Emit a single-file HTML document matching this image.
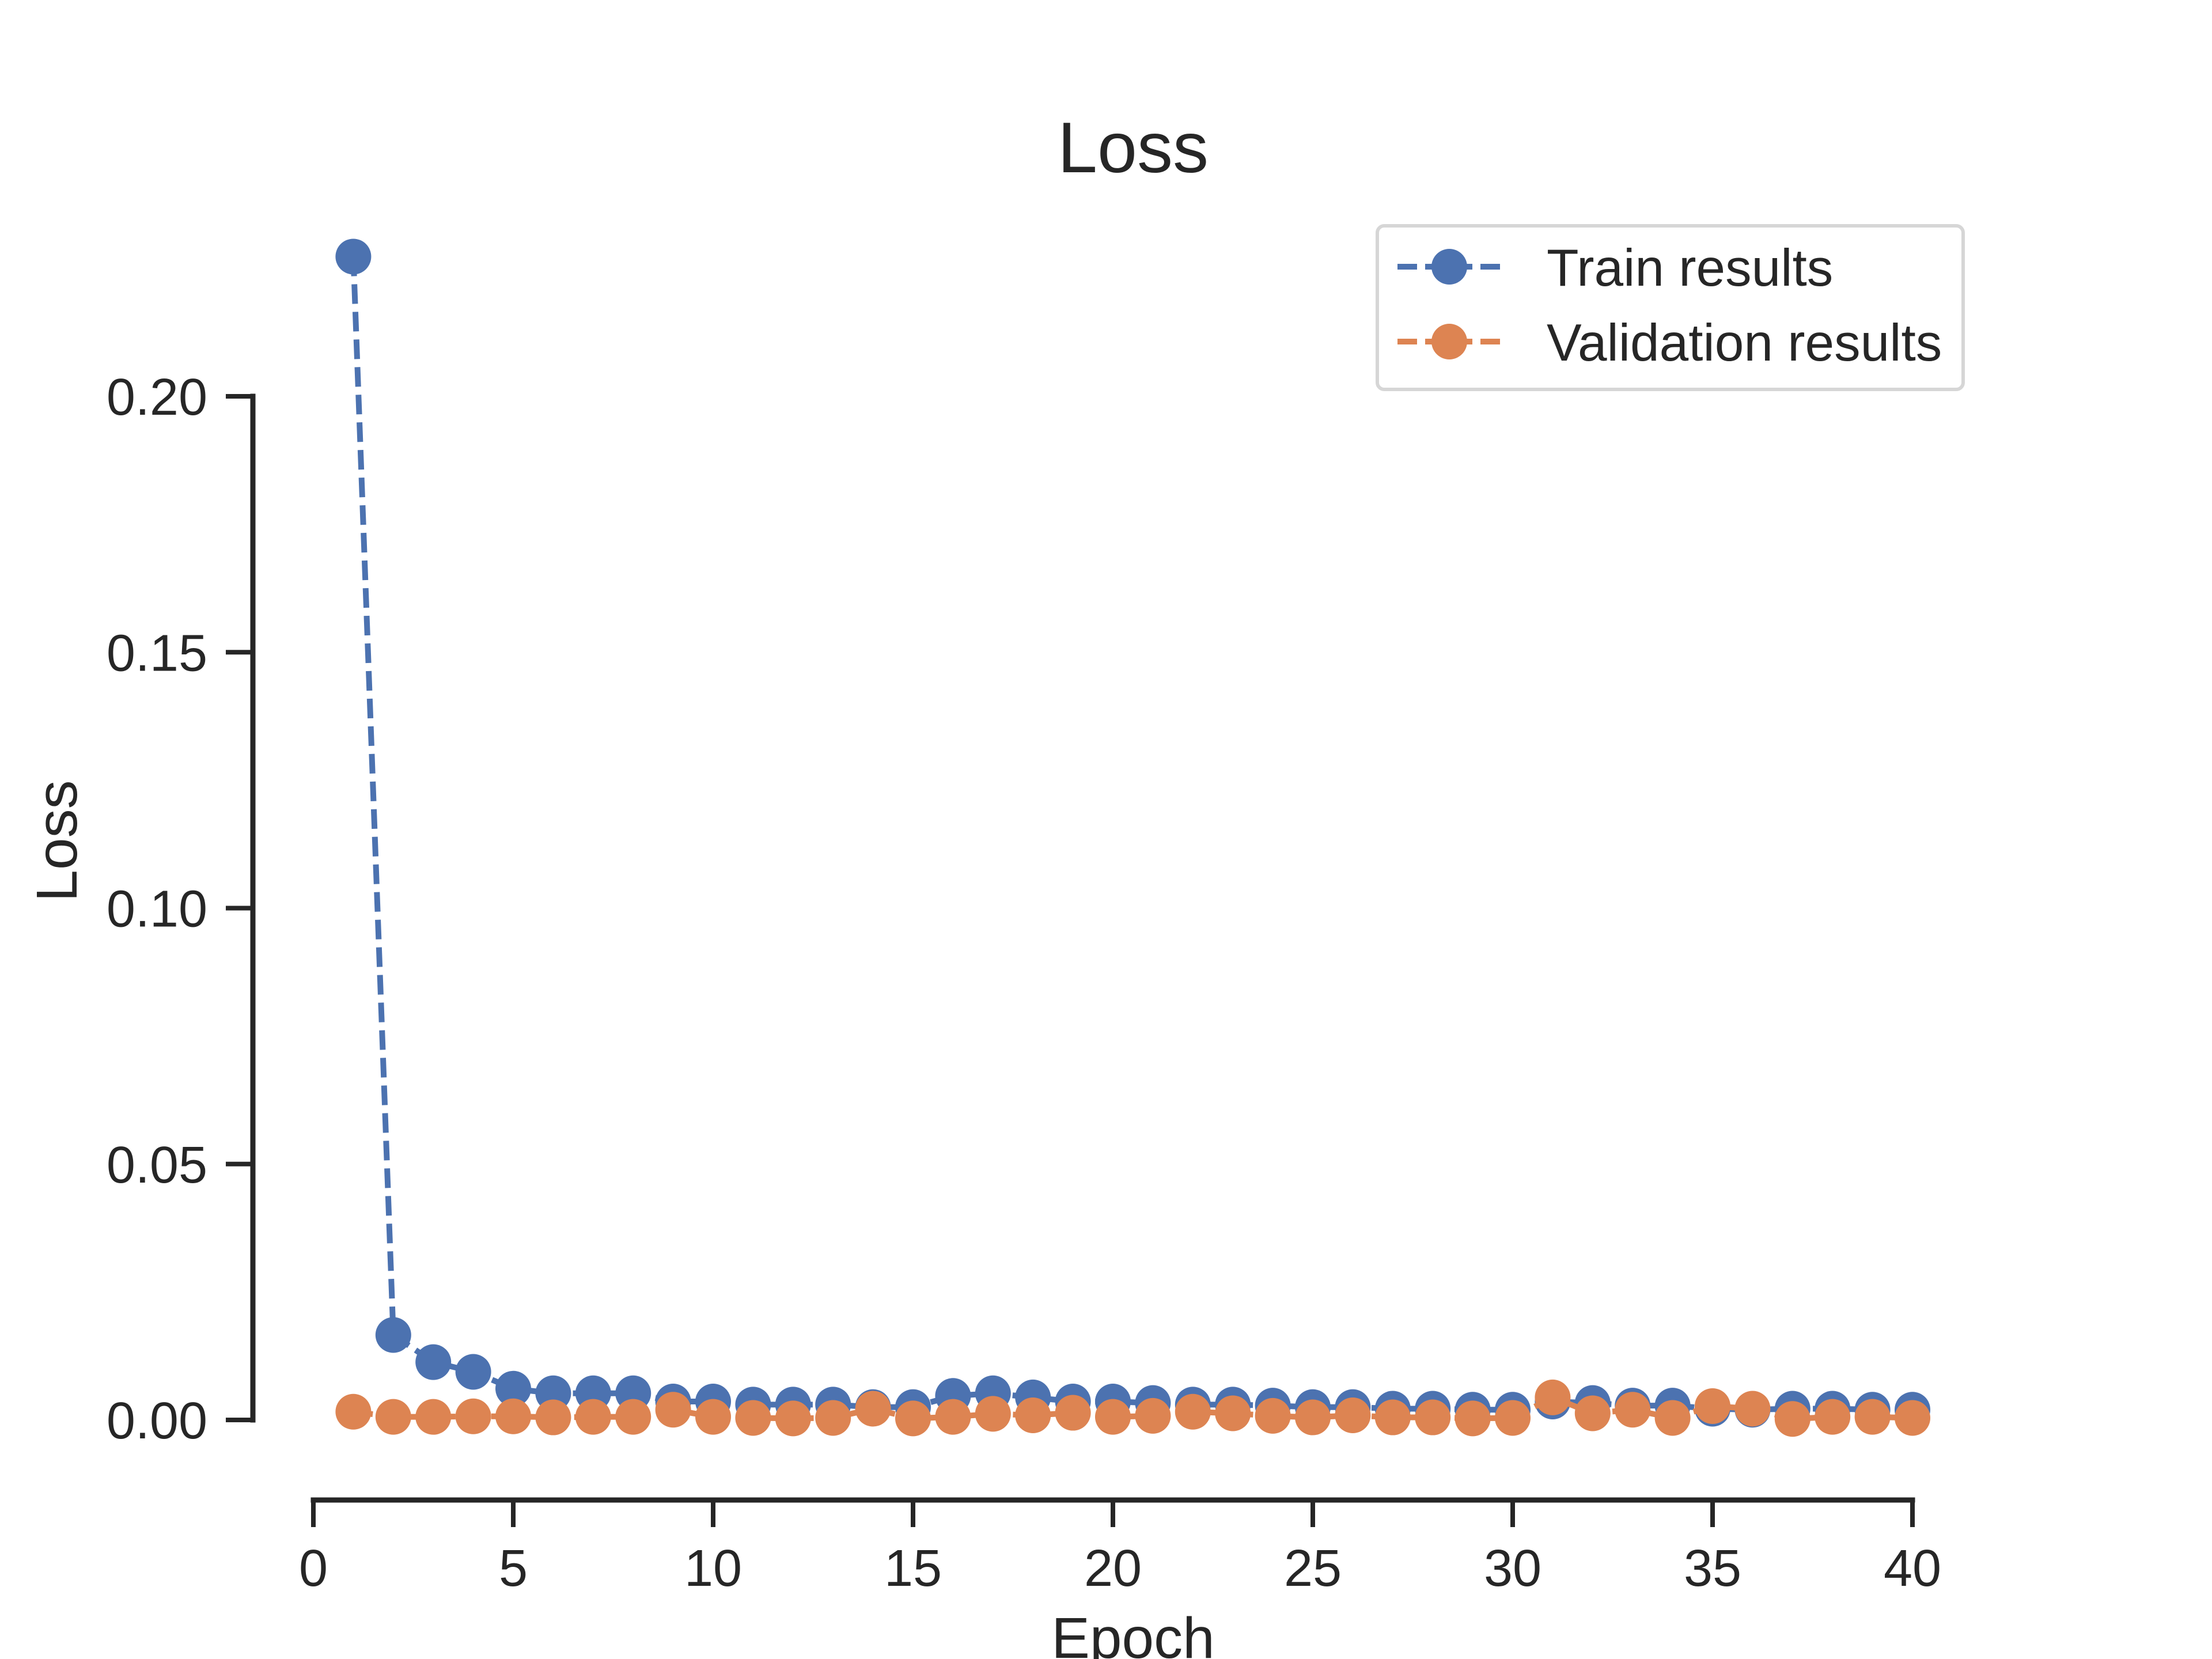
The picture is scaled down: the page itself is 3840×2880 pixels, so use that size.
<!DOCTYPE html>
<html><head><meta charset="utf-8"><style>
html,body{margin:0;padding:0;background:#fff;}
svg{display:block;font-family:"Liberation Sans",Arial,sans-serif;}
</style></head><body>
<svg id="chart" width="3840" height="2880" viewBox="0 0 3840 2880" xmlns="http://www.w3.org/2000/svg">
<rect width="3840" height="2880" fill="#fff"/>
<text x="1967" y="299" font-size="124" text-anchor="middle" fill="#262626">Loss</text>
<g id="axes"></g>
<g id="series"></g>
<g>
<rect x="2391" y="392" width="1017" height="284" rx="12" fill="#fff" stroke="#d6d6d6" stroke-width="6"/>
<g>
<line x1="2426" y1="463" x2="2607" y2="463" stroke="#4c72b0" stroke-width="10" stroke-dasharray="34 14"/>
<circle cx="2516" cy="463" r="31" fill="#4c72b0"/>
<text x="2685" y="496" font-size="91" fill="#262626">Train results</text>
</g>
<g>
<line x1="2426" y1="593" x2="2607" y2="593" stroke="#dd8452" stroke-width="10" stroke-dasharray="34 14"/>
<circle cx="2516" cy="593" r="31" fill="#dd8452"/>
<text x="2685" y="626" font-size="91" fill="#262626">Validation results</text>
</g>
</g>
</svg>
<script>
const epochs = Array.from({length:40},(_,i)=>i+1);
const trainLoss = [0.2273,0.0166,0.0113,0.0094,0.0061,0.0052,0.0052,0.0052,0.0036,0.0036,0.0030,0.0030,0.0030,0.0025,0.0025,0.0047,0.0052,0.0044,0.0036,0.0036,0.0033,0.0030,0.0030,0.0028,0.0025,0.0025,0.0022,0.0022,0.0020,0.0020,0.0036,0.0033,0.0028,0.0028,0.0022,0.0020,0.0022,0.0022,0.0020,0.0020];
const valLoss = [0.0016,0.0006,0.0006,0.0007,0.0007,0.0005,0.0006,0.0006,0.0020,0.0006,0.0004,0.0003,0.0004,0.0022,0.0003,0.0006,0.0012,0.0009,0.0014,0.0006,0.0008,0.0016,0.0013,0.0008,0.0005,0.0009,0.0005,0.0005,0.0003,0.0004,0.0044,0.0013,0.0020,0.0004,0.0027,0.0022,0.0002,0.0006,0.0006,0.0004];
const xTicks = [0,5,10,15,20,25,30,35,40];
const yTicks = [0,0.05,0.10,0.15,0.20];
const yTickLabels = ["0.00","0.05","0.10","0.15","0.20"];

const NS="http://www.w3.org/2000/svg";
const X0=544,X1=3320,Y0=2465,Y1=688,AXX=439,AXY=2604;
function xs(v){return X0+(X1-X0)*v/40;}
function ys(v){return Y0-(Y0-Y1)*v/0.20;}
function mk(tag,attrs,parent){const e=document.createElementNS(NS,tag);for(const k in attrs)e.setAttribute(k,attrs[k]);parent.appendChild(e);return e;}
const axes=document.getElementById('axes');
const C="#262626";
let yl=mk('line',{x1:AXX,y1:ys(0.2),x2:AXX,y2:ys(0),stroke:C,'stroke-width':9,'stroke-linecap':'square'},axes);


yTicks.forEach((t,i)=>{
  const tk=mk('line',{x1:AXX-47,y1:ys(t),x2:AXX,y2:ys(t),stroke:C,'stroke-width':8},axes);
  
  
  const tx=mk('text',{x:360,y:ys(t)+32,'font-size':90,'text-anchor':'end',fill:C},axes);
  tx.textContent=yTickLabels[i];
  
  
});
let xl=mk('line',{x1:xs(0),y1:AXY,x2:xs(40),y2:AXY,stroke:C,'stroke-width':9,'stroke-linecap':'square'},axes);


xTicks.forEach(t=>{
  const tk=mk('line',{x1:xs(t),y1:AXY,x2:xs(t),y2:AXY+47,stroke:C,'stroke-width':8},axes);
  
  
  const tx=mk('text',{x:xs(t),y:2753,'font-size':90,'text-anchor':'middle',fill:C},axes);
  tx.textContent=String(t);
  
  
});
let xt=mk('text',{x:1967,y:2878,'font-size':100,'text-anchor':'middle',fill:C},axes);
xt.textContent='Epoch';


let yt=mk('text',{x:0,y:0,'font-size':100,'text-anchor':'middle',fill:C,transform:'translate(133,1460) rotate(-90)'},axes);
yt.textContent='Loss';



const series=document.getElementById('series');
function draw(vals,color,name){
  const g=mk('g',{},series);
  
  
  const pts=vals.map((v,i)=>xs(epochs[i])+','+ys(v)).join(' ');
  const pl=mk('polyline',{points:pts,fill:'none',stroke:color,'stroke-width':10,'stroke-dasharray':'34 14'},g);
  
  
  vals.forEach((v,i)=>{
    const c=mk('circle',{cx:xs(epochs[i]),cy:ys(v),r:31,fill:color},g);
    
    
  });
}
draw(trainLoss,'#4c72b0','train');
draw(valLoss,'#dd8452','validation');
</script>
</body></html>
